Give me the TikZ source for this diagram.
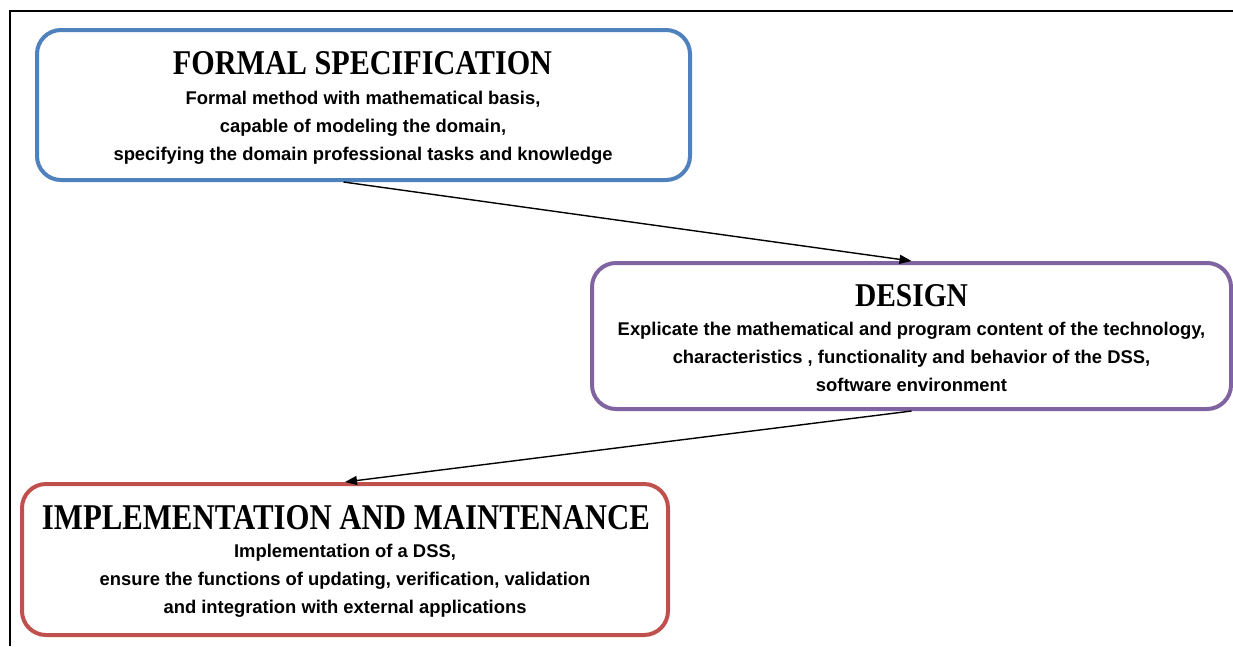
\documentclass[tikz,border=0pt]{standalone}
\usepackage{fontspec}
\setmainfont{Liberation Sans}
\newfontfamily\titlefont{Liberation Serif}
\usetikzlibrary{arrows.meta,calc}
\definecolor{boxblue}{HTML}{4F81BD}
\definecolor{boxpurple}{HTML}{8064A2}
\definecolor{boxred}{HTML}{C0504D}
\tikzset{
  stagebox/.style={draw=#1, line width=4pt, rounded corners=24pt, inner sep=0pt, fill=white},
  titletext/.style={inner sep=0pt, anchor=center},
  bodytext/.style={inner sep=0pt, align=center, font=\fontsize{18.4}{28}\selectfont\bfseries},
  flow/.style={line width=1.4pt, -{Triangle[length=12pt,width=9pt]}},
  frameline/.style={line width=1.5pt}
}
\newcommand{\ttl}[3]{\resizebox{#1pt}{#2pt}{\titlefont\bfseries #3}}
\begin{document}
\begin{tikzpicture}[x=1pt,y=-1pt]
\useasboundingbox (0,0) rectangle (1233,646);
\coordinate (frameA) at (10,646);
\coordinate (frameB) at (10,11);
\coordinate (frameC) at (1233,11);
\draw[frameline] (frameA) -- (frameB) -- (frameC);

\node[stagebox=boxblue, minimum width=653pt, minimum height=150pt] (formal) at (363.5,105) {};
\node[stagebox=boxpurple, minimum width=639pt, minimum height=146pt] (design) at (911.5,336) {};
\node[stagebox=boxred, minimum width=646pt, minimum height=151pt] (impl) at (345,559.5) {};

\node[titletext] (formalT) at (362.5,63.5) {\ttl{379}{23}{FORMAL SPECIFICATION}};
\node[titletext] (designT) at (911.5,296) {\ttl{113}{22}{DESIGN}};
\node[titletext] (implT) at (346,518) {\ttl{608}{24}{IMPLEMENTATION AND MAINTENANCE}};

\node[bodytext, anchor=north] (formalB) at (363,91) {Formal method with mathematical basis,\\capable of modeling the domain,\\specifying the domain professional tasks and knowledge};
\node[bodytext, anchor=north] (designB) at (911.5,322) {Explicate the mathematical and program content of the technology,\\characteristics , functionality and behavior of the DSS,\\software environment};
\node[bodytext, anchor=north] (implB) at (345,544) {Implementation of a DSS,\\ensure the functions of updating, verification, validation\\and integration with external applications};

\coordinate (a1s) at ($(formal.south)+(-20,0)$);
\draw[flow] (a1s) -- (design.north);
\draw[flow] (design.south) -- (impl.north);
\end{tikzpicture}
\end{document}
